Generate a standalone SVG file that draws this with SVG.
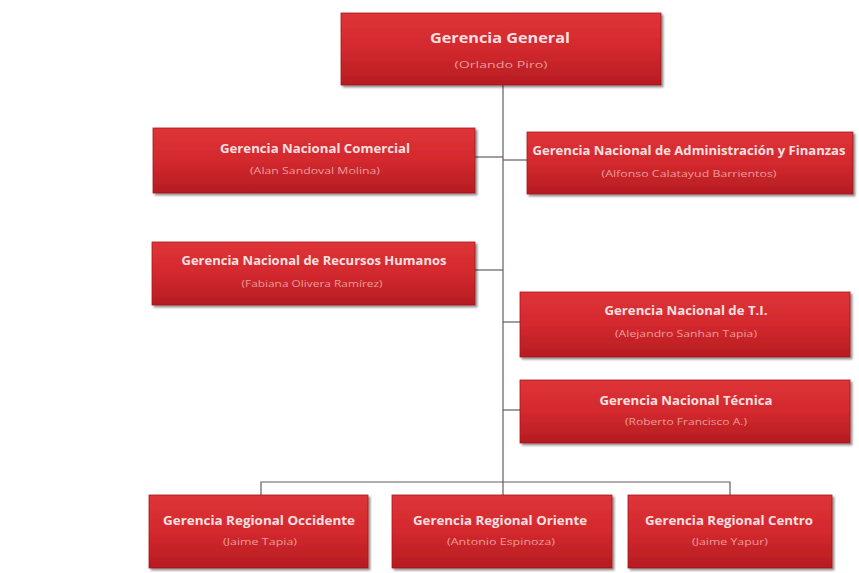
<svg xmlns="http://www.w3.org/2000/svg" width="859" height="573" viewBox="0 0 859 573">
<defs>
<linearGradient id="red" x1="0" y1="0" x2="0" y2="1">
<stop offset="0" stop-color="#de3438"/>
<stop offset="0.5" stop-color="#d3292e"/>
<stop offset="1" stop-color="#b51c22"/>
</linearGradient>
<filter id="sh" x="-5%" y="-10%" width="112%" height="130%">
<feGaussianBlur in="SourceAlpha" stdDeviation="1.2"/>
<feOffset dx="1.5" dy="2" result="o"/>
<feComponentTransfer><feFuncA type="linear" slope="0.45"/></feComponentTransfer>
<feMerge><feMergeNode/><feMergeNode in="SourceGraphic"/></feMerge>
</filter>
</defs>
<style>
.box{fill:url(#red);stroke:#a5161b;stroke-width:0.8;filter:url(#sh)}
.t{font-family:"Open Sans","Liberation Sans",sans-serif;font-weight:bold;font-size:12.5px;fill:#f8e0e0;text-anchor:middle}
.s{font-family:"Open Sans","Liberation Sans",sans-serif;font-size:9.5px;fill:#eb9c9c;text-anchor:middle}
.big{font-size:14px}
.c{fill:none;stroke:#6a5a5e;stroke-width:1.2}
</style>
<rect width="859" height="573" fill="#ffffff"/>
<g id="connectors">
<path class="c" d="M503 85V482"/>
<path class="c" d="M475 157H503"/>
<path class="c" d="M503 160H527"/>
<path class="c" d="M475 270H503"/>
<path class="c" d="M503 322H520"/>
<path class="c" d="M503 410H520"/>
<path class="c" d="M261 495V482H730V495"/>
<path class="c" d="M503 482V495"/>
</g>
<g id="gerencia-general">
<rect class="box" x="341" y="13" width="320" height="72"/>
<text class="t big" x="500" y="43" textLength="140" lengthAdjust="spacingAndGlyphs">Gerencia  General</text>
<text class="s" x="501" y="68" textLength="93" lengthAdjust="spacingAndGlyphs">(Orlando Piro)</text>
</g>
<g id="comercial">
<rect class="box" x="153" y="128" width="322" height="65"/>
<text class="t" x="315" y="153" textLength="190" lengthAdjust="spacingAndGlyphs">Gerencia Nacional Comercial</text>
<text class="s" x="315" y="174" textLength="130" lengthAdjust="spacingAndGlyphs">(Alan Sandoval Molina)</text>
</g>
<g id="administracion">
<rect class="box" x="527" y="132" width="326" height="62"/>
<text class="t" x="689" y="155" textLength="313" lengthAdjust="spacingAndGlyphs">Gerencia Nacional de Administración y Finanzas</text>
<text class="s" x="689" y="177" textLength="175" lengthAdjust="spacingAndGlyphs">(Alfonso Calatayud Barrientos)</text>
</g>
<g id="rrhh">
<rect class="box" x="152" y="242" width="323" height="63"/>
<text class="t" x="314" y="265" textLength="265" lengthAdjust="spacingAndGlyphs">Gerencia Nacional de Recursos Humanos</text>
<text class="s" x="312" y="287" textLength="141" lengthAdjust="spacingAndGlyphs">(Fabiana Olivera Ramírez)</text>
</g>
<g id="ti">
<rect class="box" x="520" y="292" width="330" height="65"/>
<text class="t" x="686" y="315" textLength="163" lengthAdjust="spacingAndGlyphs">Gerencia Nacional de T.I.</text>
<text class="s" x="686" y="337" textLength="142" lengthAdjust="spacingAndGlyphs">(Alejandro Sanhan Tapia)</text>
</g>
<g id="tecnica">
<rect class="box" x="520" y="380" width="330" height="63"/>
<text class="t" x="686" y="405" textLength="173" lengthAdjust="spacingAndGlyphs">Gerencia Nacional Técnica</text>
<text class="s" x="686" y="425" textLength="122" lengthAdjust="spacingAndGlyphs">(Roberto Francisco A.)</text>
</g>
<g id="occidente">
<rect class="box" x="149" y="495" width="219" height="73"/>
<text class="t" x="259" y="525" textLength="192" lengthAdjust="spacingAndGlyphs">Gerencia Regional Occidente</text>
<text class="s" x="260" y="545" textLength="74" lengthAdjust="spacingAndGlyphs">(Jaime Tapia)</text>
</g>
<g id="oriente">
<rect class="box" x="392" y="495" width="220" height="73"/>
<text class="t" x="500" y="525" textLength="174" lengthAdjust="spacingAndGlyphs">Gerencia Regional Oriente</text>
<text class="s" x="501" y="545" textLength="108" lengthAdjust="spacingAndGlyphs">(Antonio Espinoza)</text>
</g>
<g id="centro">
<rect class="box" x="628" y="495" width="204" height="73"/>
<text class="t" x="729" y="525" textLength="168" lengthAdjust="spacingAndGlyphs">Gerencia Regional Centro</text>
<text class="s" x="730" y="545" textLength="76" lengthAdjust="spacingAndGlyphs">(Jaime Yapur)</text>
</g>
</svg>
